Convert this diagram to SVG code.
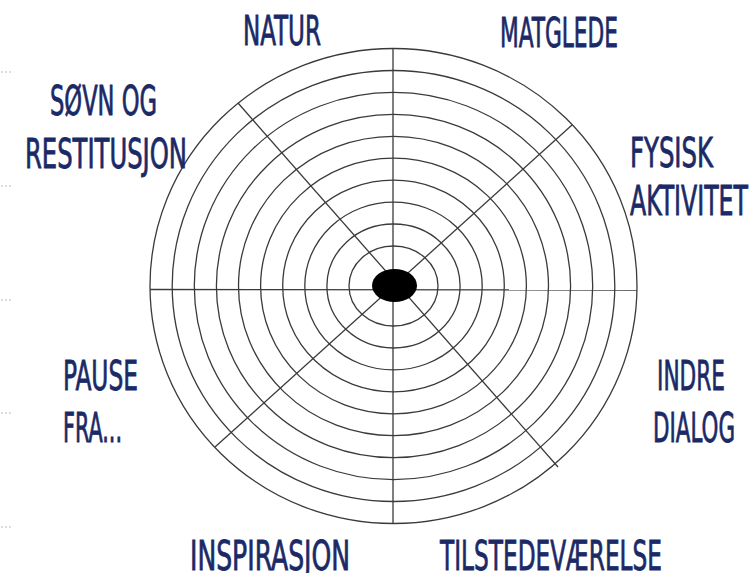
<svg xmlns="http://www.w3.org/2000/svg" width="753" height="573" viewBox="0 0 753 573">
<style>
.ring{fill:none;stroke:#3a3a3a;stroke-width:1.3}
.spoke{stroke:#3a3a3a;stroke-width:1.3}
.lbl{font-family:"DejaVu Sans Condensed","DejaVu Sans",sans-serif;font-stretch:condensed;font-size:40px;fill:#1b2a66;stroke:#1b2a66;stroke-width:0.8}
.dot{fill:#d0d0d0}
</style>
<rect width="753" height="573" fill="#ffffff"/>
<g id="dots">
<circle class="dot" cx="2" cy="72" r="1"/><circle class="dot" cx="6" cy="72" r="1"/><circle class="dot" cx="10" cy="72" r="1"/>
<circle class="dot" cx="2" cy="186" r="1"/><circle class="dot" cx="6" cy="186" r="1"/><circle class="dot" cx="10" cy="186" r="1"/>
<circle class="dot" cx="2" cy="300" r="1"/><circle class="dot" cx="6" cy="300" r="1"/><circle class="dot" cx="10" cy="300" r="1"/>
<circle class="dot" cx="2" cy="413" r="1"/><circle class="dot" cx="6" cy="413" r="1"/><circle class="dot" cx="10" cy="413" r="1"/>
<circle class="dot" cx="2" cy="527" r="1"/><circle class="dot" cx="6" cy="527" r="1"/><circle class="dot" cx="10" cy="527" r="1"/>
</g>
<g id="rings">
<ellipse class="ring" cx="393.5" cy="286" rx="44.5" ry="40"/>
<ellipse class="ring" cx="393.5" cy="286" rx="66.6" ry="62"/>
<ellipse class="ring" cx="393.5" cy="286" rx="88.7" ry="83.9"/>
<ellipse class="ring" cx="393.5" cy="286" rx="110.8" ry="105.8"/>
<ellipse class="ring" cx="393.5" cy="286" rx="132.9" ry="127.8"/>
<ellipse class="ring" cx="393.5" cy="286" rx="155" ry="149.7"/>
<ellipse class="ring" cx="393.5" cy="286" rx="177.1" ry="171.6"/>
<ellipse class="ring" cx="393.5" cy="286" rx="199.2" ry="193.6"/>
<ellipse class="ring" cx="393.5" cy="286" rx="221.3" ry="215.5"/>
<ellipse class="ring" cx="393.5" cy="286" rx="243.5" ry="237.5"/>
</g>
<g id="connectors">
<line class="spoke" x1="150" y1="289.5" x2="637" y2="290"/>
<line class="spoke" x1="393" y1="48" x2="393" y2="523.5"/>
<line class="spoke" x1="238" y1="103" x2="558" y2="467"/>
<line class="spoke" x1="572" y1="125" x2="215" y2="447"/>
</g>
<g id="center"><ellipse cx="394.5" cy="285.5" rx="22.5" ry="16.5" fill="#000"/></g>
<g id="natur"><text class="lbl" x="243" y="45" textLength="78" lengthAdjust="spacingAndGlyphs">NATUR</text></g>
<g id="matglede"><text class="lbl" x="500" y="47" textLength="118" lengthAdjust="spacingAndGlyphs">MATGLEDE</text></g>
<g id="sovn"><text class="lbl" x="50" y="115" textLength="107" lengthAdjust="spacingAndGlyphs">SØVN OG</text><text class="lbl" x="25" y="168" textLength="162" lengthAdjust="spacingAndGlyphs">RESTITUSJON</text></g>
<g id="fysisk"><text class="lbl" x="630" y="167" textLength="83" lengthAdjust="spacingAndGlyphs">FYSISK</text><text class="lbl" x="630" y="215" textLength="118" lengthAdjust="spacingAndGlyphs">AKTIVITET</text></g>
<g id="pause"><text class="lbl" x="63" y="390" textLength="75" lengthAdjust="spacingAndGlyphs">PAUSE</text><text class="lbl" x="63" y="442" textLength="59" lengthAdjust="spacingAndGlyphs">FRA...</text></g>
<g id="indre"><text class="lbl" x="657" y="390" textLength="68" lengthAdjust="spacingAndGlyphs">INDRE</text><text class="lbl" x="653" y="442" textLength="82" lengthAdjust="spacingAndGlyphs">DIALOG</text></g>
<g id="inspirasjon"><text class="lbl" x="190" y="570" textLength="160" lengthAdjust="spacingAndGlyphs">INSPIRASJON</text></g>
<g id="tilstede"><text class="lbl" x="440" y="570" textLength="222" lengthAdjust="spacingAndGlyphs">TILSTEDEVÆRELSE</text></g>
</svg>
